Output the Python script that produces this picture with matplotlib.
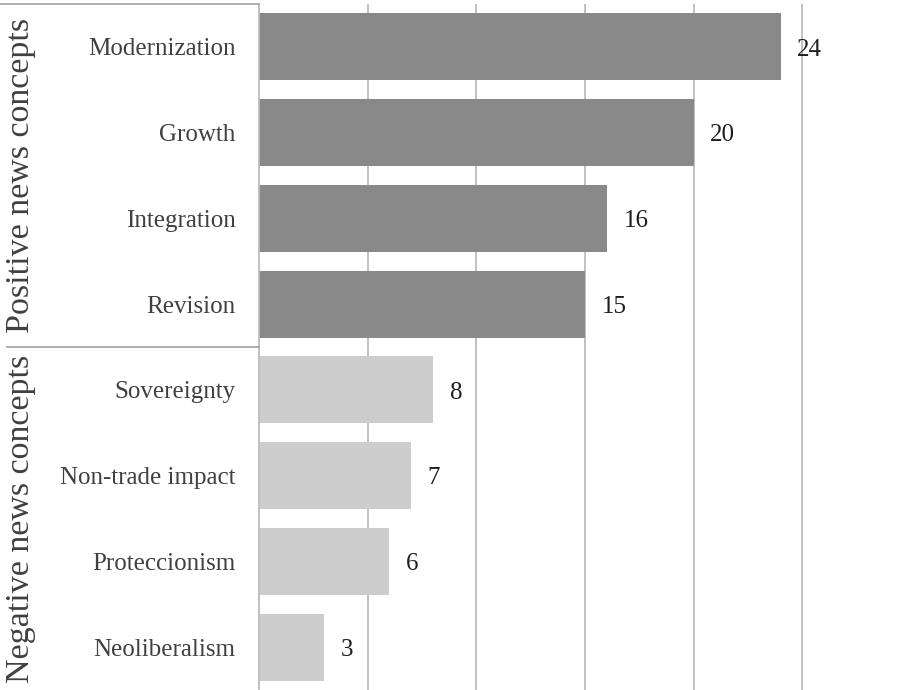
import matplotlib.pyplot as plt
from matplotlib.lines import Line2D
import matplotlib.transforms as mtransforms

plt.rcParams['font.family'] = ['Liberation Serif', 'DejaVu Serif']

# news concepts and how often each one appears
concepts = ["Modernization", "Growth", "Integration", "Revision",
            "Sovereignty", "Non-trade impact", "Proteccionism", "Neoliberalism"]
counts = [24, 20, 16, 15, 8, 7, 6, 3]
groups = ["Positive news concepts", "Negative news concepts"]
group_sizes = [4, 4]
group_colors = ["#898989", "#cdcdcd"]

colors = []
for g, n in enumerate(group_sizes):
    colors += [group_colors[g]] * n

fig = plt.figure(figsize=(8.99, 6.90), dpi=100)
ax = fig.add_axes([259 / 899, 0.0, 1 - 259 / 899, 1 - 4 / 690])

pos = list(range(len(concepts)))
ax.barh(pos, counts, height=0.78, color=colors, zorder=2)
ax.set_ylim(len(concepts) - 0.5, -0.5)
ax.set_xlim(0, 29.45)

# vertical gridlines every 5
for gx in range(5, 30, 5):
    ax.axvline(gx, color="#bcbcbc", lw=1.3, zorder=1)

for p, c in zip(pos, counts):
    ax.annotate(str(c), (c, p), xytext=(12, -2), textcoords="offset points",
                va="center", ha="left", fontsize=18, color="#1e1e1e")

ax.set_yticks(pos)
ax.set_yticklabels(concepts, fontsize=18, color="#404040")
ax.tick_params(axis="y", length=0, pad=17)
ax.set_xticks([])
for s in ["top", "right", "bottom"]:
    ax.spines[s].set_visible(False)
ax.spines["left"].set_color("#bcbcbc")
ax.spines["left"].set_linewidth(1.3)

# group frame lines on the label side
trans = mtransforms.blended_transform_factory(fig.transFigure, ax.transData)
fig.add_artist(Line2D([0, 259 / 899], [-0.5, -0.5], transform=trans,
                      color="#a8a8a8", lw=1.3))
start = 0
for g, n in enumerate(group_sizes):
    if g > 0:
        fig.add_artist(Line2D([7 / 899, 259 / 899], [start - 0.5, start - 0.5],
                              transform=trans, color="#a8a8a8", lw=1.3))
    mid = start + (n - 1) / 2
    fig.text(21 / 899, mid, groups[g], transform=trans, rotation=90,
             ha="center", va="center", fontsize=24.5, color="#404040")
    start += n

fig.savefig("out.png", dpi=100)
